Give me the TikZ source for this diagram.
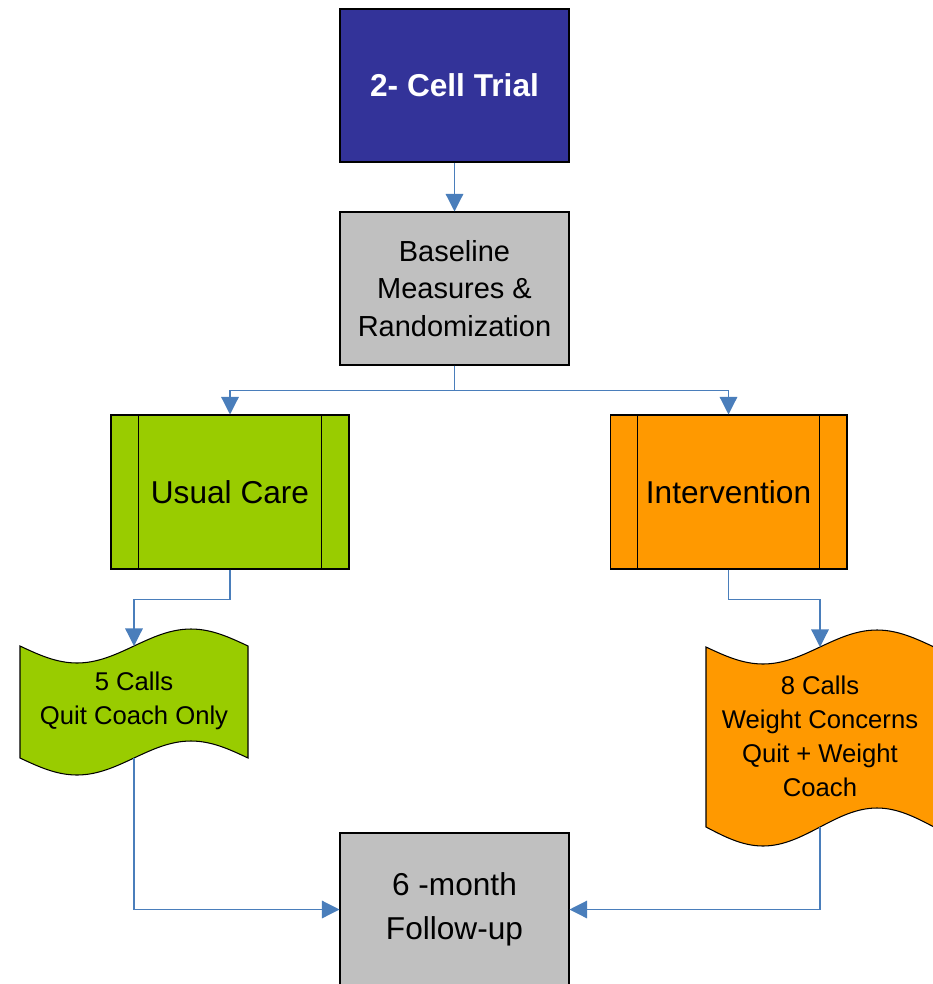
\documentclass[tikz,border=0pt]{standalone}
\usepackage{fontspec}
\setmainfont{Liberation Sans}
\usepackage{tikz}
\usetikzlibrary{arrows.meta}
\definecolor{trialblue}{HTML}{333399}
\definecolor{boxgrey}{HTML}{C0C0C0}
\definecolor{usualgreen}{HTML}{99CC00}
\definecolor{armorange}{HTML}{FF9900}
\definecolor{linkblue}{HTML}{4A7EBB}
\tikzstyle{box}   = [draw=black,line width=0.6pt,minimum width=4.58cm,minimum height=3.06cm,align=center,inner sep=0pt]
\tikzstyle{arm}   = [box,minimum width=4.76cm,minimum height=3.08cm,font=\fontsize{18}{22}\selectfont]
\tikzstyle{tape}  = [draw=black,line width=0.6pt]
\tikzstyle{calls} = [align=center,font=\fontsize{14.6}{19.3}\selectfont]
\tikzstyle{arrow} = [linkblue,line width=0.7pt,-{Triangle[length=10pt,width=10pt]}]

\begin{document}
\begin{tikzpicture}[x=0.02cm,y=-0.02cm]
           \useasboundingbox(0, 0)rectangle(933, 984);
           \clip(0, 0)rectangle(933, 984);
           \node[box,fill=trialblue,text=white,font=\bfseries\fontsize{18}{22}\selectfont](a)at(454.5, 85.5){2- Cell Trial};
           \node[box,fill=boxgrey,font=\fontsize{16.5}{21.5}\selectfont](b)at(454.5, 288.5){Baseline\\Measures \&\\Randomization};
           \node[arm,fill=usualgreen](c)at(230, 492){Usual Care};
           \node[arm,minimum width=4.74cm,fill=armorange](d)at(728.5, 492){Intervention};
           \draw[line width=0.6pt]([xshift=0.56cm]c.north west)--([xshift=0.56cm]c.south west);
           \draw[line width=0.6pt]([xshift=-0.56cm]c.north east)--([xshift=-0.56cm]c.south east);
           \draw[line width=0.6pt]([xshift=0.56cm]d.north west)--([xshift=0.56cm]d.south west);
           \draw[line width=0.6pt]([xshift=-0.56cm]d.north east)--([xshift=-0.56cm]d.south east);
           % tapes
           \filldraw[tape,fill=usualgreen](20, 646)sin(77, 663)cos(134, 646)sin(191, 629)cos(248, 646)--(248, 758)sin(191, 741)cos(134, 758)sin(77, 775)cos(20, 758)--cycle;
           \filldraw[tape,fill=armorange](706, 647)sin(763, 664)cos(820, 647)sin(877, 630)cos(934, 647)--(934, 827)sin(877, 808)cos(820, 827)sin(763, 846)cos(706, 827)--cycle;
           \node[calls](e)at(134, 701){5 Calls\\Quit Coach Only};
           \node[calls](f)at(820, 736){8 Calls\\Weight Concerns\\Quit + Weight\\Coach};
           \coordinate(e1)at(134, 646);
           \coordinate(e2)at(134, 758);
           \coordinate(f1)at(820, 647);
           \coordinate(f2)at(820, 827);
           \node[box,fill=boxgrey,font=\fontsize{18}{25}\selectfont](g)at(454.5, 909.5){6 -month\\Follow-up};
           \draw[arrow](a)--(b);
           \draw[arrow](b.south)--++(0, 25)-|(c.north);
           \draw[arrow](b.south)--++(0, 25)-|(d.north);
           \draw[arrow](c.south)--++(0, 30)-|(e1);
           \draw[arrow](d.south)--++(0, 30)-|(f1);
           \draw[arrow](e2)|-(g.west);
           \draw[arrow](f2)|-(g.east);
\end{tikzpicture}
\end{document}
